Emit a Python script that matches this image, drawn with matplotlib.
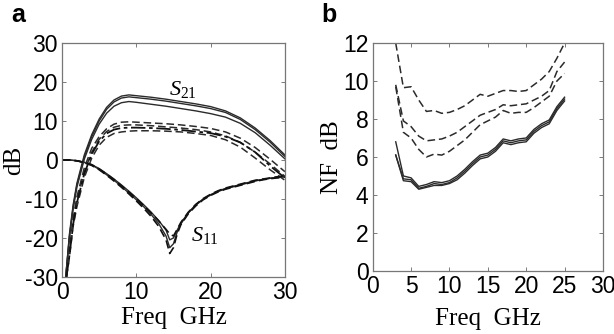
import matplotlib
matplotlib.use("Agg")
import matplotlib.pyplot as plt

plt.rcParams['font.family'] = 'Liberation Sans'
plt.rcParams['axes.unicode_minus'] = False
plt.rcParams['mathtext.fontset'] = 'custom'
plt.rcParams['mathtext.rm'] = 'Liberation Serif'
plt.rcParams['mathtext.it'] = 'Liberation Serif:italic'

# ---------------- panel a: S-parameters ----------------
f_s21 = [0.5, 1, 1.5, 2, 3, 4, 5, 6, 7, 8, 9, 10, 12, 14, 16, 18, 20, 22, 24, 26, 28, 30]
s21_solid1 = [-30, -19, -11.5, -6, 1.3, 6.5, 10.5, 13.5, 15.4, 16.4, 16.7, 16.5, 16.1, 15.6, 15.0, 14.4, 13.7, 12.6, 10.8, 8.2, 5.0, 1.3]
s21_solid2 = [-30, -19.5, -12, -6.5, 0.8, 6.0, 10.0, 13.0, 14.9, 15.9, 16.2, 16.0, 15.6, 15.1, 14.5, 13.9, 13.2, 12.2, 10.4, 7.8, 4.6, 0.9]
s21_solid3 = [-30, -20, -12.5, -7, 0.2, 5.3, 9.2, 12.0, 13.8, 14.7, 15.0, 14.8, 14.3, 13.8, 13.2, 12.6, 11.9, 11.0, 9.4, 7.0, 3.8, 0.3]

f_s21d = [0.6, 1, 1.5, 2, 3, 4, 5, 6, 7, 8, 9, 10, 12, 14, 16, 18, 20, 22, 24, 26, 28, 30]
s21_dash1 = [-30, -23, -15, -9.5, -2, 3, 6, 8, 9.2, 9.7, 9.8, 9.7, 9.5, 9.3, 9.0, 8.6, 8.1, 7.2, 5.6, 3.2, 0.2, -3.0]
s21_dash2 = [-30, -24, -16, -10.5, -3, 2, 5.3, 7.3, 8.4, 8.9, 9.0, 9.0, 8.8, 8.5, 8.2, 7.8, 7.2, 6.2, 4.5, 2.0, -1.0, -4.2]
s21_dash3 = [-30, -24.5, -16.5, -11, -3.5, 1.5, 4.8, 6.8, 7.8, 8.2, 8.3, 8.3, 8.2, 8.0, 7.7, 7.3, 6.9, 6.0, 4.5, 2.0, -1.5, -4.6]
s21_dash4 = [-30, -25, -17, -12, -4.5, 0.5, 3.8, 5.8, 6.8, 7.2, 7.4, 7.5, 7.5, 7.4, 7.2, 6.8, 6.3, 5.2, 3.3, 0.5, -2.5, -5.2]

f_s11 = [0, 1, 2, 3, 4, 5, 6, 7, 8, 9, 10, 11, 12, 13, 14, 14.5, 15, 15.5, 16, 17, 18, 19, 20, 21, 22, 23, 24, 25, 26, 27, 28, 29, 30]
s11_a = [0, 0, -0.2, -0.6, -1.2, -2.2, -3.5, -4.9, -6.4, -8.0, -9.7, -11.5, -13.4, -15.5, -18.0, -20.5, -20.0, -18.0, -16.2, -13.5, -11.5, -10.0, -8.9, -8.0, -7.3, -6.8, -6.3, -5.8, -5.3, -5.0, -4.7, -4.4, -4.2]
s11_b = [0, 0, -0.2, -0.6, -1.3, -2.4, -3.8, -5.2, -6.8, -8.5, -10.2, -12.0, -14.0, -16.3, -19.5, -22.5, -21.5, -18.5, -16.4, -13.6, -11.6, -10.1, -9.0, -8.1, -7.4, -6.9, -6.4, -5.9, -5.4, -5.0, -4.7, -4.5, -4.3]
s11_c = [0, 0, -0.2, -0.7, -1.4, -2.5, -3.9, -5.4, -7.0, -8.7, -10.5, -12.4, -14.5, -17.0, -20.5, -24.0, -22.5, -19.0, -16.6, -13.8, -11.8, -10.2, -9.1, -8.2, -7.5, -7.0, -6.5, -6.0, -5.5, -5.1, -4.8, -4.6, -4.4]
s11_d = [0, 0, -0.2, -0.6, -1.2, -2.3, -3.6, -5.0, -6.6, -8.2, -9.9, -11.7, -13.6, -15.6, -17.8, -19.0, -19.5, -17.8, -16.0, -13.4, -11.4, -9.9, -8.8, -7.9, -7.2, -6.7, -6.2, -5.7, -5.2, -4.9, -4.6, -4.3, -4.1]

# ---------------- panel b: noise figure ----------------
f_nf = [3, 4, 5, 6, 7, 8, 9, 10, 11, 12, 13, 14, 15, 16, 17, 18, 19, 20, 21, 22, 23, 24, 25]
nf_dash1 = [12.0, 9.65, 9.7, 9.0, 8.4, 8.45, 8.3, 8.35, 8.5, 8.7, 9.0, 9.3, 9.2, 9.35, 9.5, 9.5, 9.45, 9.5, 9.8, 10.1, 10.5, 11.2, 12.0]
nf_dash2 = [9.8, 7.9, 7.6, 7.1, 6.85, 6.9, 6.95, 7.1, 7.3, 7.6, 7.9, 8.2, 8.35, 8.5, 8.75, 8.7, 8.75, 8.8, 9.0, 9.2, 9.5, 10.5, 11.0]
nf_dash3 = [9.7, 7.3, 7.0, 6.4, 6.0, 6.15, 6.1, 6.3, 6.6, 6.9, 7.3, 7.7, 7.9, 8.1, 8.45, 8.3, 8.35, 8.35, 8.6, 8.9, 9.2, 10.0, 10.4]
nf_solid1 = [6.8, 5.0, 4.9, 4.45, 4.55, 4.7, 4.65, 4.75, 5.0, 5.35, 5.75, 6.1, 6.2, 6.5, 6.95, 6.85, 6.95, 7.0, 7.45, 7.75, 7.95, 8.65, 9.15]
nf_solid2 = [6.1, 4.85, 4.8, 4.35, 4.45, 4.6, 4.55, 4.65, 4.9, 5.25, 5.65, 6.0, 6.1, 6.4, 6.85, 6.75, 6.85, 6.9, 7.35, 7.65, 7.85, 8.55, 9.05]
nf_solid3 = [6.1, 4.75, 4.7, 4.3, 4.4, 4.5, 4.5, 4.6, 4.8, 5.15, 5.55, 5.9, 6.0, 6.3, 6.75, 6.65, 6.75, 6.8, 7.25, 7.55, 7.75, 8.45, 8.95]

line_col = '#2b2b2b'
dash = (5, 2.5)

fig = plt.figure(figsize=(6.14, 3.34), dpi=100)
ax1 = fig.add_axes([0.101, 0.171, 0.363, 0.700])
ax2 = fig.add_axes([0.607, 0.189, 0.375, 0.682])

# panel a
for y in (s21_solid1, s21_solid2, s21_solid3):
    ax1.plot(f_s21, y, color=line_col, lw=1.0)
for y in (s21_dash1, s21_dash2, s21_dash4):
    ax1.plot(f_s21d, y, color=line_col, lw=1.1, dashes=dash)
ax1.plot(f_s21d, s21_dash3, color='#111111', lw=1.3, dashes=(8, 2, 2, 2))
for y in (s11_a, s11_b):
    ax1.plot(f_s11, y, color=line_col, lw=1.0)
for y in (s11_c, s11_d):
    ax1.plot(f_s11, y, color='#111111', lw=1.2, dashes=dash)

ax1.set_xlim(0, 30)
ax1.set_ylim(-30, 30)
ax1.set_xticks([0, 10, 20, 30])
ax1.set_yticks([-30, -20, -10, 0, 10, 20, 30])
ax1.set_xlabel('Freq  GHz', family='Liberation Serif', fontsize=18, labelpad=2)
ax1.set_ylabel('dB', family='Liberation Serif', fontsize=18, labelpad=0)
ax1.text(16.3, 18.2, r'$\mathit{S}_{\mathrm{21}}$', fontsize=16, ha='center', va='center')
ax1.text(19.2, -19.5, r'$\mathit{S}_{\mathrm{11}}$', fontsize=16, ha='center', va='center')

# panel b
for y in (nf_dash1, nf_dash2, nf_dash3):
    ax2.plot(f_nf, y, color=line_col, lw=1.1, dashes=dash)
for y in (nf_solid1, nf_solid2, nf_solid3):
    ax2.plot(f_nf, y, color=line_col, lw=1.0)

ax2.set_xlim(0, 30)
ax2.set_ylim(0, 12)
ax2.set_xticks([0, 5, 10, 15, 20, 25, 30])
ax2.set_yticks([0, 2, 4, 6, 8, 10, 12])
ax2.set_xlabel('Freq  GHz', family='Liberation Serif', fontsize=18, labelpad=7)
ax2.set_ylabel('NF  dB', family='Liberation Serif', fontsize=18, labelpad=0)

for ax in (ax1, ax2):
    ax.tick_params(direction='in', length=3, width=0.6, top=True, right=True,
                   labelsize=16.5, pad=3, colors='#666666', labelcolor='black')
    for sp in ax.spines.values():
        sp.set_color('#777777')
        sp.set_linewidth(0.9)

fig.text(0.018, 0.955, 'a', fontsize=18, fontweight='bold', va='center')
fig.text(0.524, 0.955, 'b', fontsize=18, fontweight='bold', va='center')

fig.savefig('out.png', dpi=100)
